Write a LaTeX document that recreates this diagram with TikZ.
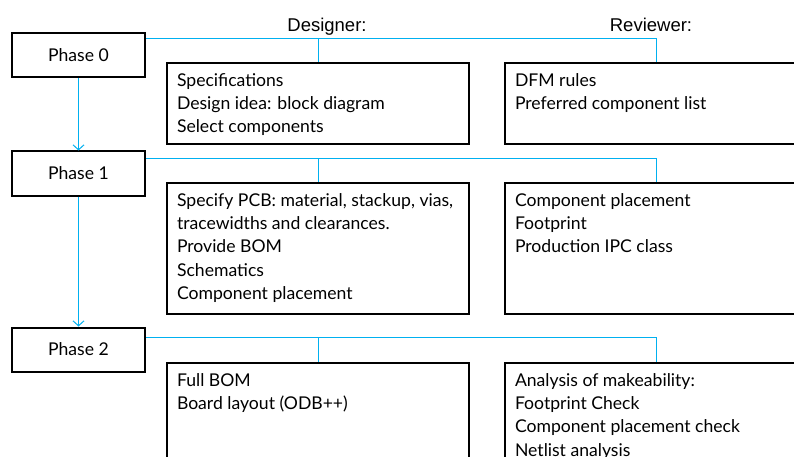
\documentclass[tikz,border=0pt]{standalone}
\usepackage{fontspec}
\setmainfont{Lato}
\newfontfamily\headfont{Liberation Sans}
\usetikzlibrary{arrows.meta,calc}
\definecolor{linkblue}{HTML}{00B0F0}
\tikzset{
  phasebox/.style={draw, line width=2pt, minimum width=133pt, minimum height=44pt,
    inner sep=0pt, font=\fontsize{17.6}{20}\selectfont},
  listbox/.style={draw, line width=2pt, anchor=north west, inner xsep=10pt, inner ysep=7pt,
    font=\fontsize{17.6}{23.3}\selectfont},
  conn/.style={linkblue, line width=1pt},
  flow/.style={linkblue, line width=1pt, -{Straight Barb[length=5pt,width=11pt,line width=1pt]}},
  head/.style={font=\headfont\fontsize{18.5}{22}\selectfont, anchor=base}
}
% boxed list of items, top-aligned inside a box of fixed height
\newcommand{\itemlist}[2]{\parbox[c][#1][t]{282pt}{\raggedright\strut #2}}
\begin{document}
\begin{tikzpicture}[x=1pt,y=-1pt]
\useasboundingbox (0,0) rectangle (794,457);
\clip (0,0) rectangle (794,457);
\fill[white] (0,0) rectangle (794,457);

% column headings
\node[head] (hd) at (327,32) {Designer:};
\node[head] (hr) at (651,32) {Reviewer:};

% phases
\node[phasebox] (p0) at (78.5,55) {Phase 0};
\node[phasebox] (p1) at (78.5,173.5) {Phase 1};
\node[phasebox] (p2) at (78.5,349.5) {Phase 2};

% phase 0 lists
\node[listbox] (d0) at (166,62) {\itemlist{67pt}{Specifications\\Design idea: block diagram\\Select components}};
\node[listbox] (r0) at (504,62) {\itemlist{67pt}{DFM rules\\Preferred component list}};

% phase 1 lists
\node[listbox] (d1) at (166,182) {\itemlist{117pt}{Specify PCB: material, stackup, vias,\\tracewidths and clearances.\\Provide BOM\\Schematics\\Component placement}};
\node[listbox] (r1) at (504,182) {\itemlist{117pt}{Component placement\\Footprint\\Production IPC class}};

% phase 2 lists
\node[listbox] (d2) at (166,362) {\itemlist{120pt}{Full BOM\\Board layout (ODB++)}};
\node[listbox] (r2) at (504,362) {\itemlist{120pt}{Analysis of makeability:\\Footprint Check\\Component placement check\\Netlist analysis}};

% branches from each phase to its lists
\coordinate (b0) at ($(p0.north east)+(0,7)$);
\coordinate (b1) at ($(p1.north east)+(0,8)$);
\coordinate (b2) at ($(p2.north east)+(0,11)$);
\draw[conn] (b0) -| (r0.north);
\draw[conn] (d0.north) -- (d0.north |- b0);
\draw[conn] (b1) -| (r1.north);
\draw[conn] (d1.north) -- (d1.north |- b1);
\draw[conn] (b2) -| (r2.north);
\draw[conn] (d2.north) -- (d2.north |- b2);

% phase sequence
\draw[flow] (p0.south) -- (p1.north);
\draw[flow] (p1.south) -- (p2.north);
\end{tikzpicture}
\end{document}
